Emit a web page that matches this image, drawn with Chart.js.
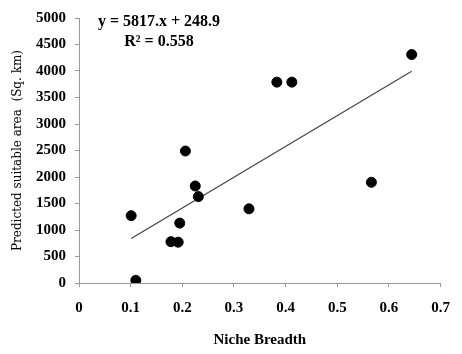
<!DOCTYPE html>
<html>
<head>
<meta charset="utf-8">
<script src="https://cdn.jsdelivr.net/npm/chart.js@4/dist/chart.umd.min.js"></script>
<style>
  html, body { margin: 0; padding: 0; background: #fff; }
  #wrap { width: 462px; height: 354px; position: relative; }
</style>
</head>
<body>
<div id="wrap"><canvas id="c" width="462" height="354"></canvas></div>
<script>
// Data
const nicheBreadth = [0.101, 0.110, 0.178, 0.192, 0.195, 0.206, 0.225, 0.231, 0.329, 0.383, 0.412, 0.566, 0.644];
const suitableArea = [1270, 50, 780, 770, 1130, 2490, 1830, 1630, 1400, 3790, 3790, 1900, 4310];
const trendX = [0.101, 0.644];
const trendY = [838, 3995];
const xTickLabels = ['0', '0.1', '0.2', '0.3', '0.4', '0.5', '0.6', '0.7'];
const yTickLabels = ['0', '500', '1000', '1500', '2000', '2500', '3000', '3500', '4000', '4500', '5000'];
const equationLines = ['y = 5817.x + 248.9', 'R\u00B2 = 0.558'];

const serif = '"Liberation Serif", "Times New Roman", serif';

const eqPlugin = {
  id: 'eq',
  afterDraw(chart) {
    const ctx = chart.ctx;
    ctx.save();
    ctx.fillStyle = '#000';
    ctx.font = 'bold 16px ' + serif;
    ctx.textAlign = 'center';
    ctx.textBaseline = 'middle';
    ctx.fillText(equationLines[0], 159, 22);
    ctx.fillText(equationLines[1], 159, 42);
    ctx.restore();
  }
};

new Chart(document.getElementById('c'), {
  type: 'scatter',
  data: {
    datasets: [
      {
        label: 'points',
        data: nicheBreadth.map((x, i) => ({ x: x, y: suitableArea[i] })),
        backgroundColor: '#000',
        borderColor: '#000',
        pointRadius: 5,
        pointHoverRadius: 5,
        showLine: false
      },
      {
        label: 'trend',
        type: 'line',
        data: trendX.map((x, i) => ({ x: x, y: trendY[i] })),
        borderColor: '#444',
        borderWidth: 1.2,
        pointRadius: 0,
        fill: false
      }
    ]
  },
  options: {
    responsive: false,
    animation: false,
    events: [],
    layout: { padding: { left: 0, right: 10, top: 15, bottom: 0 } },
    plugins: { legend: { display: false }, tooltip: { enabled: false } },
    scales: {
      x: {
        type: 'linear',
        min: 0, max: 0.7,
        afterFit(s) { s.height = 71; },
        afterBuildTicks(s) { s.ticks = xTickLabels.map(t => ({ value: parseFloat(t) })); },
        ticks: {
          callback: (v, i) => xTickLabels[i],
          color: '#000',
          font: { family: serif, size: 15, weight: 'bold' },
          padding: 12,
          maxRotation: 0,
          autoSkip: false
        },
        grid: { drawOnChartArea: false, drawTicks: true, tickLength: 4, color: '#999' },
        border: { color: '#999', width: 1 },
        title: {
          display: true,
          text: 'Niche Breadth',
          color: '#000',
          font: { family: serif, size: 15, weight: 'bold' },
          padding: { top: 0, bottom: 5 }
        }
      },
      y: {
        type: 'linear',
        min: 0, max: 5000,
        afterFit(s) { s.width = 79; },
        afterBuildTicks(s) { s.ticks = yTickLabels.map(t => ({ value: parseFloat(t) })); },
        ticks: {
          callback: (v, i) => yTickLabels[i],
          color: '#000',
          font: { family: serif, size: 15, weight: 'bold' },
          padding: 9,
          autoSkip: false
        },
        grid: { drawOnChartArea: false, drawTicks: true, tickLength: 4, color: '#999' },
        border: { color: '#999', width: 1 },
        title: {
          display: true,
          text: 'Predicted suitable area  (Sq. km)',
          color: '#000',
          font: { family: '"DejaVu Serif", serif', size: 12, weight: 'normal' },
          padding: { top: 11, bottom: 0 }
        }
      }
    }
  },
  plugins: [eqPlugin]
});
</script>
</body>
</html>
